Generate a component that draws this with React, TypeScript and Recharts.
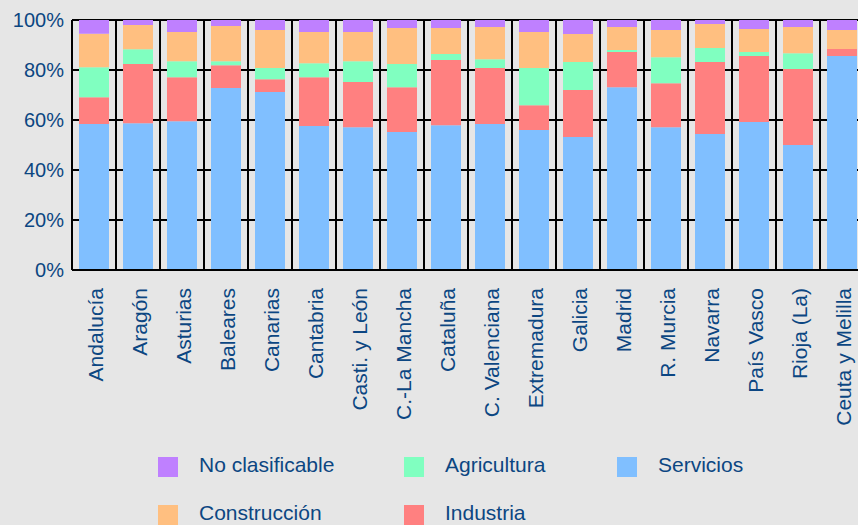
import { BarChart, Bar, XAxis, YAxis, CartesianGrid } from 'recharts';

const REGIONS = [
  'Andalucía', 'Aragón', 'Asturias', 'Baleares', 'Canarias', 'Cantabria',
  'Casti. y León', 'C.-La Mancha', 'Cataluña', 'C. Valenciana', 'Extremadura',
  'Galicia', 'Madrid', 'R. Murcia', 'Navarra', 'País Vasco', 'Rioja (La)', 'Ceuta y Melilla',
];

// % por sector (de abajo arriba en la pila)
const SERVICIOS = [58.4, 58.7, 59.5, 72.8, 71.2, 57.6, 57.1, 55.2, 57.9, 58.4, 56.0, 53.2, 73.1, 57.1, 54.4, 59.2, 50.0, 85.6];
const INDUSTRIA = [10.7, 23.7, 17.6, 9.1, 5.1, 19.5, 18.1, 17.9, 26.1, 22.4, 9.9, 18.8, 14.1, 17.6, 28.8, 26.4, 30.4, 2.8];
const AGRICULTURA = [12.0, 5.9, 6.4, 1.6, 4.5, 5.6, 8.3, 9.3, 2.4, 3.5, 14.9, 11.2, 0.8, 10.4, 5.6, 1.6, 6.3, 0];
const CONSTRUCCION = [13.4, 9.7, 11.7, 14.1, 15.2, 12.5, 11.7, 14.4, 10.4, 12.9, 14.4, 11.2, 9.2, 10.9, 9.6, 9.2, 10.5, 7.6];
const NO_CLASIFICABLE = [5.5, 2.0, 4.8, 2.4, 4.0, 4.8, 4.8, 3.2, 3.2, 2.8, 4.8, 5.6, 2.8, 4.0, 1.6, 3.6, 2.8, 4.0];

const Y_TICKS = [0, 20, 40, 60, 80, 100];

const SERIES = [
  { key: 'Servicios', values: SERVICIOS, color: '#80bfff' },
  { key: 'Industria', values: INDUSTRIA, color: '#ff8080' },
  { key: 'Agricultura', values: AGRICULTURA, color: '#80ffc0' },
  { key: 'Construcción', values: CONSTRUCCION, color: '#ffbf80' },
  { key: 'No clasificable', values: NO_CLASIFICABLE, color: '#bf80ff' },
];

// legend reads column by column, top of stack first
const LEGEND_ORDER = ['No clasificable', 'Agricultura', 'Servicios', 'Construcción', 'Industria'];

const TEXT = '#0c4682';
const FONT = '"Liberation Sans", Arial, sans-serif';

const data = REGIONS.map((name, i) => {
  const row: Record<string, any> = { name };
  SERIES.forEach(s => { row[s.key] = s.values[i]; });
  return row;
});

const RotTick = ({ x, y, payload }: any) => (
  <text
    x={x + 1}
    y={y + 10}
    dy="0.36em"
    transform={`rotate(-90, ${x + 1}, ${y + 10})`}
    textAnchor="end"
    fontSize={21}
    fontFamily={FONT}
    fill={TEXT}
  >
    {payload.value}
  </text>
);

export default function App() {
  const legendLeft = [158, 404, 617];
  const legendTop = [457, 505];

  return (
    <div style={{ position: 'absolute', left: 0, top: 0, width: 858, height: 525, overflow: 'hidden', background: '#e6e6e6', fontFamily: FONT }}>
      <BarChart
        width={866}
        height={525}
        data={data}
        margin={{ top: 20, right: 2, left: 0, bottom: 0 }}
        barSize={30}
      >
        <CartesianGrid
          stroke="#000"
          strokeWidth={2}
          horizontalValues={Y_TICKS}
          verticalCoordinatesGenerator={({ offset }: any) =>
            REGIONS.map((_, i) => offset.left + ((i + 1) * offset.width) / REGIONS.length)
          }
        />
        <XAxis
          dataKey="name"
          interval={0}
          height={255}
          tickLine={false}
          axisLine={{ stroke: '#000', strokeWidth: 2 }}
          tick={<RotTick />}
        />
        <YAxis
          width={72}
          domain={[0, 100]}
          ticks={Y_TICKS}
          tickFormatter={v => `${v}%`}
          tickLine={false}
          axisLine={{ stroke: '#000', strokeWidth: 2 }}
          tick={{ fontSize: 20, fill: TEXT, fontFamily: FONT }}
        />
        {SERIES.map(s => (
          <Bar key={s.key} dataKey={s.key} stackId="a" fill={s.color} isAnimationActive={false} />
        ))}
      </BarChart>
      {LEGEND_ORDER.map((key, i) => {
        const s = SERIES.find(x => x.key === key)!;
        const left = legendLeft[i % 3];
        const top = legendTop[Math.floor(i / 3)];
        return (
          <div key={key} style={{ position: 'absolute', left, top, display: 'flex', alignItems: 'flex-start' }}>
            <div style={{ width: 20, height: 20, background: s.color }} />
            <span style={{ marginLeft: 21, marginTop: -2, fontSize: 21, lineHeight: '20px', color: TEXT, whiteSpace: 'nowrap' }}>{key}</span>
          </div>
        );
      })}
    </div>
  );
}
